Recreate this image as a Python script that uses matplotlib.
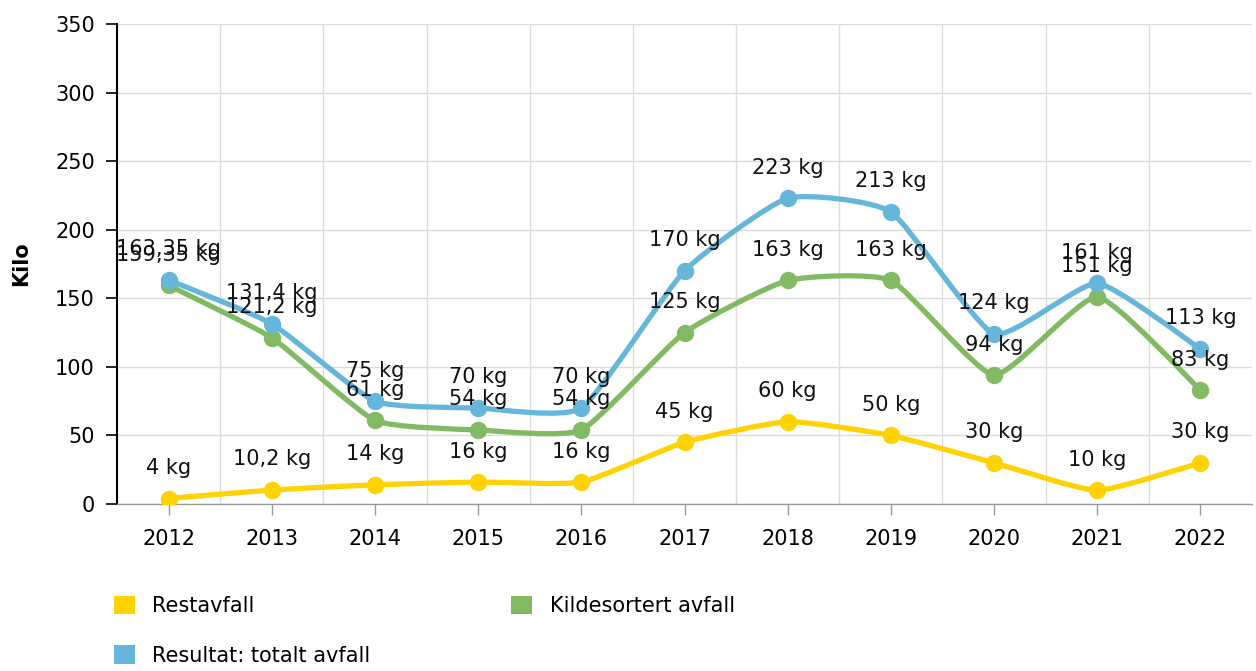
import matplotlib

matplotlib.use("Agg")
import matplotlib.pyplot as plt
import numpy as np
from matplotlib.patches import Patch, PathPatch
from matplotlib.path import Path

years = ["2012", "2013", "2014", "2015", "2016", "2017", "2018", "2019", "2020", "2021", "2022"]
restavfall = [4, 10.2, 14, 16, 16, 45, 60, 50, 30, 10, 30]
kildesortert = [159.35, 121.2, 61, 54, 54, 125, 163, 163, 94, 151, 83]
totalt = [163.35, 131.4, 75, 70, 70, 170, 223, 213, 124, 161, 113]

series = [
    ("Restavfall", restavfall, "#ffd200"),
    ("Kildesortert avfall", kildesortert, "#82b963"),
    ("Resultat: totalt avfall", totalt, "#66b6dc"),
]

FS = 15


def cardinal_path(xs, ys, tension=0.5):
    """Cardinal spline through the points as a cubic bezier path."""
    k = (1 - tension) / 6
    pts = np.column_stack([xs, ys]).astype(float)
    n = len(pts)
    tang = np.zeros_like(pts)
    for i in range(n):
        prev = pts[max(i - 1, 0)]
        nxt = pts[min(i + 1, n - 1)]
        tang[i] = nxt - prev
    verts = [tuple(pts[0])]
    codes = [Path.MOVETO]
    for i in range(1, n):
        verts += [tuple(pts[i - 1] + k * tang[i - 1]), tuple(pts[i] - k * tang[i]), tuple(pts[i])]
        codes += [Path.CURVE4] * 3
    return Path(verts, codes)


def fmt(v):
    return f"{v:g}".replace(".", ",") + " kg"


fig = plt.figure(figsize=(12.56, 6.71), dpi=100)
ax = fig.add_axes([117 / 1256, 1 - 504 / 671, 1135 / 1256, 480 / 671])

x = np.arange(len(years))
for i, (name, vals, color) in enumerate(series):
    path = cardinal_path(x, vals)
    ax.add_patch(PathPatch(path, facecolor="none", edgecolor=color, lw=3.8,
                           capstyle="round", joinstyle="round", zorder=3 + i))
    ax.plot(x, vals, "o", color=color, markersize=11.5, zorder=3 + i)
    for xi, v in zip(x, vals):
        ax.annotate(fmt(v), (xi, v), xytext=(0, 22), textcoords="offset points",
                    ha="center", va="center", fontsize=FS, color="#111111", zorder=10)

ax.set_xlim(-0.5, len(years) - 0.5)
ax.set_ylim(0, 350)
ax.set_yticks(np.arange(0, 351, 50))
ax.set_xticks(x)
ax.set_xticklabels(years)
ax.set_xticks(np.arange(-0.5, len(years), 1), minor=True)
ax.grid(True, which="minor", axis="x", color="#dcdcdc", lw=1)
ax.grid(True, which="major", axis="y", color="#dcdcdc", lw=1)
ax.set_axisbelow(True)

for side in ["top", "right"]:
    ax.spines[side].set_visible(False)
ax.spines["left"].set_color("black")
ax.spines["left"].set_linewidth(1.5)
ax.spines["bottom"].set_color("#999999")
ax.spines["bottom"].set_linewidth(1)

ax.tick_params(axis="y", length=8, width=1.2, color="black", labelsize=FS, pad=8)
ax.tick_params(axis="x", which="major", length=8, width=1, color="#999999",
               labelsize=FS, pad=10)
ax.tick_params(axis="x", which="minor", length=0)

ax.set_ylabel("Kilo", fontsize=FS, fontweight="bold")
ax.yaxis.set_label_coords(-0.076, 0.5)

handles = {name: Patch(facecolor=color, edgecolor="none") for name, _, color in series}
order = ["Restavfall", "Resultat: totalt avfall", "Kildesortert avfall"]
fig.legend([handles[n] for n in order], order, ncol=2, loc="upper left",
           bbox_to_anchor=(95 / 1256, 1 - 577 / 671), frameon=False, fontsize=FS,
           handlelength=1.0, handleheight=1.0, handletextpad=0.85,
           labelspacing=1.4, columnspacing=6.75)

fig.savefig("out.png", dpi=100)
